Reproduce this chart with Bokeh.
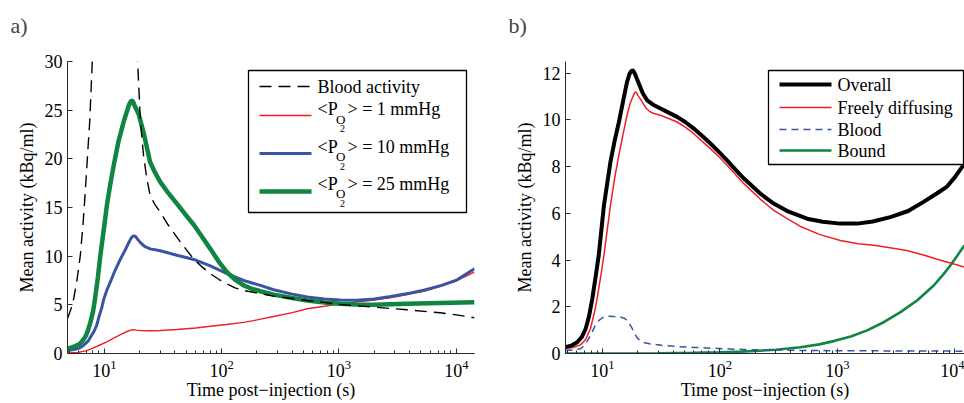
from bokeh.plotting import figure
from bokeh.layouts import row
from bokeh.models import (Range1d, FixedTicker, LogTickFormatter, Label, Arrow,
                          BoxAnnotation, Title)
from bokeh.embed import file_html
from bokeh.resources import INLINE

# ---------------- data ----------------
# panel a)
blood_t = [4.85, 5.2, 5.47, 5.85, 6.24, 6.6, 6.9, 7.2, 7.5, 7.85, 8.5, 9.5, 10.5, 12, 15,
           17, 18.5, 19.2, 20.3, 21.6, 23, 24.6, 27, 30, 35, 41.5, 49, 57.8, 68, 80, 95,
           111, 130, 154, 214, 277, 400, 535, 750, 1025, 1990, 3800, 7270, 10000, 14300]
blood_v = [3.6, 4.6, 5.6, 7.6, 10.1, 13.5, 16.9, 20.5, 23.8, 29.4, 40, 52, 58, 60, 58,
           50, 38, 30, 23.8, 20.3, 18.0, 16.2, 15.3, 14.5, 13.2, 11.95, 10.8, 9.7, 8.9, 8.2, 7.6,
           7.16, 6.75, 6.47, 6.15, 5.9, 5.65, 5.45, 5.25, 5.03, 4.76, 4.49, 4.18, 3.97, 3.67]

po1_t = [4.85, 6, 7.1, 8, 9.25, 10.5, 12, 13.7, 15.6, 17, 17.8, 18.8, 20.5, 24.6, 30, 41.5,
         60, 80, 110, 154, 200, 277, 400, 535, 750, 1025, 1990, 2800, 3800, 5300, 7270,
         10000, 14300]
po1_v = [0.05, 0.12, 0.3, 0.55, 0.9, 1.2, 1.57, 1.93, 2.26, 2.42, 2.45, 2.4, 2.35, 2.33,
         2.37, 2.47, 2.62, 2.8, 2.98, 3.2, 3.45, 3.8, 4.2, 4.6, 4.85, 5.1, 5.5, 5.75, 6.05,
         6.4, 6.9, 7.45, 8.35]

po10_t = [4.85, 5.5, 6.1, 6.6, 7.3, 8.1, 8.6, 9.0, 9.5, 9.9, 10.5, 11.2, 12.3, 13.7, 15, 16,
          17, 17.8, 18.5, 19.3, 20.3, 22, 24.6, 30, 41.5, 58, 80, 111, 154, 214, 277, 400,
          535, 750, 1025, 1425, 2000, 2760, 4000, 5270, 7500, 10170, 14300]
po10_v = [0.3, 0.4, 0.55, 0.8, 1.3, 2.2, 2.9, 3.8, 4.7, 5.6, 6.5, 7.3, 8.5, 9.7, 10.6, 11.3,
          11.9, 12.1, 12.0, 11.7, 11.4, 11.0, 10.75, 10.55, 10.1, 9.66, 9.0, 8.2, 7.5, 7.0,
          6.55, 6.1, 5.8, 5.6, 5.5, 5.48, 5.6, 5.86, 6.2, 6.5, 7.0, 7.57, 8.7]

po25_t = [4.85, 5.5, 6.2, 6.7, 7.0, 7.3, 7.6, 8.0, 8.3, 8.8, 9.25, 9.9, 10.5, 11.2, 12, 13.2,
          14.6, 15.5, 16.3, 17, 17.5, 18.2, 19.6, 21.6, 24.5, 27, 30, 35, 41.5, 49, 58, 68,
          80, 95, 111, 130, 154, 180, 214, 277, 400, 535, 750, 1025, 1400, 1990, 3800, 7300,
          14300]
po25_v = [0.5, 0.7, 1.0, 1.5, 1.9, 2.5, 3.2, 4.3, 5.5, 7.8, 10.1, 12.8, 15.2, 17.3, 19.3,
          21.8, 23.8, 24.8, 25.6, 26.0, 25.9, 25.4, 24.6, 22.7, 19.7, 18.6, 17.6, 16.5, 15.4,
          14.3, 13.2, 12.0, 10.75, 9.4, 8.35, 7.6, 7.0, 6.65, 6.4, 6.05, 5.7, 5.45, 5.25, 5.1,
          5.03, 5.0, 5.1, 5.2, 5.27]

# panel b)
overall_t = [4.85, 5.5, 6.1, 6.7, 7.2, 7.7, 8.2, 8.7, 9.3, 9.8, 10.3, 11, 11.7, 12.7, 13.8,
             15, 16.2, 17.1, 17.9, 18.4, 18.8, 19.5, 20.4, 22, 24, 27, 31.2, 37, 43.2, 51,
             59.9, 70, 83, 98, 115, 135, 160, 190, 221, 287, 380, 552, 750, 1060, 1475, 2000,
             2820, 4000, 5400, 7000, 8500, 10000, 12060]
overall_v = [0.27, 0.35, 0.48, 0.72, 1.06, 1.6, 2.34, 3.2, 4.2, 5.3, 6.34, 7.3, 8.2, 9.1,
             9.9, 10.8, 11.63, 12.0, 12.13, 12.08, 12.0, 11.8, 11.56, 11.15, 10.84, 10.65,
             10.49, 10.3, 10.13, 9.9, 9.63, 9.33, 8.99, 8.63, 8.27, 7.88, 7.49, 7.15, 6.84,
             6.42, 6.08, 5.77, 5.64, 5.56, 5.56, 5.65, 5.84, 6.1, 6.49, 6.85, 7.13, 7.55, 8.13]

free_t = [4.85, 5.7, 6.5, 7.2, 7.9, 8.5, 9.0, 9.6, 10.3, 11, 11.7, 12.7, 13.8, 15, 16.2, 17.2,
          18, 18.6, 19.1, 19.6, 20, 21, 21.8, 23.5, 25.6, 28, 31.2, 37, 43.2, 51, 59.9, 70,
          83, 98, 115, 135, 160, 190, 221, 287, 380, 480, 700, 1060, 1500, 2040, 2800, 3890,
          5300, 7530, 9500, 12060]
free_v = [0.2, 0.27, 0.37, 0.6, 1.06, 1.7, 2.34, 3.2, 4.2, 5.3, 6.34, 7.5, 8.49, 9.4, 10.2,
          10.7, 10.95, 11.12, 11.2, 11.15, 11.05, 10.9, 10.77, 10.5, 10.34, 10.26, 10.2, 10.05,
          9.91, 9.68, 9.41, 9.1, 8.77, 8.42, 8.06, 7.67, 7.27, 6.92, 6.6, 6.13, 5.75, 5.45,
          5.1, 4.84, 4.7, 4.63, 4.53, 4.41, 4.23, 3.99, 3.85, 3.7]

bloodb_t = [4.85, 5.7, 6.5, 7.2, 7.9, 8.6, 9.3, 10, 10.9, 12.5, 14.2, 15.5, 16.2, 16.8, 17.3,
            18, 18.5, 19.5, 20.7, 22.5, 25.6, 32, 43, 60, 83, 160, 300, 500, 1000, 3000, 12060]
bloodb_v = [0.13, 0.15, 0.2, 0.4, 0.77, 1.15, 1.41, 1.53, 1.6, 1.58, 1.56, 1.5, 1.41, 1.3,
            1.2, 1.05, 0.91, 0.72, 0.56, 0.47, 0.41, 0.35, 0.3, 0.26, 0.23, 0.17, 0.15, 0.13,
            0.12, 0.11, 0.1]

bound_t = [4.85, 30, 60, 100, 150, 200, 300, 484, 700, 930, 1300, 1790, 2500, 3440, 4760,
           6600, 8000, 9130, 10500, 12060]
bound_v = [0.0, 0.01, 0.03, 0.05, 0.08, 0.11, 0.16, 0.27, 0.39, 0.53, 0.73, 0.99, 1.35, 1.77,
           2.27, 2.91, 3.4, 3.77, 4.2, 4.63]

x_major = [10, 100, 1000, 10000]
x_minor = [m * d for d in (1, 10, 100, 1000, 10000) for m in range(2, 10)]
ya_ticks = [0, 5, 10, 15, 20, 25, 30]
yb_ticks = [0, 2, 4, 6, 8, 10, 12]
x_title = "Time post\u2212injection (s)"
y_title = "Mean activity (kBq/ml)"

RED = "#ee1f26"
BLUE = "#3a53a4"
GREEN = "#0f8541"
BLACK = "#000000"
SERIF = "Liberation Serif"
AX = "#2a2a2a"


def text(p, x, y, s, size="18px", align="left"):
    p.add_layout(Label(x=x, y=y, x_units="screen", y_units="screen", text=s,
                       text_font=SERIF, text_font_size=size, text_baseline="middle",
                       text_align=align, text_color="black"))


def style(p, yticks, panel_label):
    p.xgrid.visible = False
    p.ygrid.visible = False
    p.outline_line_color = None
    p.background_fill_color = "white"
    p.border_fill_color = "white"
    for ax in (p.xaxis[0], p.yaxis[0]):
        ax.axis_line_color = AX
        ax.major_tick_line_color = AX
        ax.minor_tick_line_color = AX
        ax.major_tick_in = 5
        ax.major_tick_out = 0
        ax.minor_tick_in = 3
        ax.minor_tick_out = 0
        ax.major_label_text_font = SERIF
        ax.major_label_text_font_size = "18px"
        ax.major_label_text_color = "black"
        ax.axis_label_text_font = SERIF
        ax.axis_label_text_font_size = "18px"
        ax.axis_label_text_font_style = "normal"
        ax.axis_label_text_color = "black"
    xa = p.xaxis[0]
    xa.ticker = FixedTicker(ticks=x_major, minor_ticks=x_minor)
    xa.formatter = LogTickFormatter()
    xa.axis_label = x_title
    xa.major_label_standoff = 6
    xa.axis_label_standoff = 0
    ya = p.yaxis[0]
    ya.ticker = FixedTicker(ticks=yticks)
    ya.minor_tick_line_color = None
    ya.axis_label = y_title
    ya.major_label_standoff = 5
    ya.axis_label_standoff = 5
    # spacer (closest to the frame) then the panel letter above it
    p.add_layout(Title(text=" ", text_font=SERIF, text_font_size="12px", standoff=0), "above")
    p.add_layout(Title(text=panel_label, text_font=SERIF, text_font_size="22px",
                       text_font_style="normal", align="left", offset=-57, standoff=16),
                 "above")


def line_sample(p, x0, x1, y, color, width, dash="solid"):
    p.add_layout(Arrow(end=None, start=None, x_start=x0, x_end=x1, y_start=y, y_end=y,
                       start_units="screen", end_units="screen", line_color=color,
                       line_width=width, line_dash=dash))


# ---------------- panel a ----------------
pa = figure(width=480, height=403, x_axis_type="log", title=None,
            x_range=Range1d(4.85, 14300), y_range=Range1d(0, 30),
            output_backend="svg", toolbar_location=None,
            min_border_left=67, min_border_right=6, min_border_top=61, min_border_bottom=50)

pa.line(po1_t, po1_v, line_color=RED, line_width=1.4)
pa.line(po10_t, po10_v, line_color=BLUE, line_width=3)
pa.line(po25_t, po25_v, line_color=GREEN, line_width=4.5)
pa.line(blood_t, blood_v, line_color=BLACK, line_width=1.4, line_dash="12 7")
style(pa, ya_ticks, "a)")

# legend a (screen units relative to the frame, y from bottom)
pa.add_layout(BoxAnnotation(left=181, right=399, top=283, bottom=141,
                            left_units="screen", right_units="screen",
                            top_units="screen", bottom_units="screen",
                            fill_color="white", fill_alpha=1.0,
                            line_color="black", line_width=1.3, line_alpha=1.0))
line_sample(pa, 192, 244, 267, BLACK, 1.4, "12 7")
line_sample(pa, 192, 244, 238, RED, 1.4)
line_sample(pa, 192, 244, 200, BLUE, 3)
line_sample(pa, 192, 244, 162, GREEN, 4.5)
text(pa, 250, 267, "Blood activity")
for yc, lab in ((244.5, "> = 1 mmHg"), (207, "> = 10 mmHg"), (170, "> = 25 mmHg")):
    text(pa, 250, yc, "<P")
    text(pa, 268.5, yc - 10, "O", "13px")
    text(pa, 272.5, yc - 19.5, "2", "10px")
    text(pa, 280, yc, lab)

# ---------------- panel b ----------------
pb = figure(width=484, height=403, x_axis_type="log", title=None,
            x_range=Range1d(4.85, 12060), y_range=Range1d(0, 12.5),
            output_backend="svg", toolbar_location=None,
            min_border_left=85, min_border_right=0, min_border_top=61, min_border_bottom=50)

pb.line(bound_t, bound_v, line_color=GREEN, line_width=2.6)
pb.line(bloodb_t, bloodb_v, line_color=BLUE, line_width=1.5, line_dash="7 5")
pb.line(free_t, free_v, line_color=RED, line_width=1.5)
pb.line(overall_t, overall_v, line_color=BLACK, line_width=4)
style(pb, yb_ticks, "b)")

pb.add_layout(BoxAnnotation(left=203, right=398, top=283, bottom=189,
                            left_units="screen", right_units="screen",
                            top_units="screen", bottom_units="screen",
                            fill_color="white", fill_alpha=1.0,
                            line_color="black", line_width=1.3, line_alpha=1.0))
for yc, col, w, dash, lab in ((269, BLACK, 4, "solid", "Overall"),
                              (246, RED, 1.5, "solid", "Freely diffusing"),
                              (224, BLUE, 1.5, "7 5", "Blood"),
                              (203, GREEN, 2.6, "solid", "Bound")):
    line_sample(pb, 214, 266, yc, col, w, dash)
    text(pb, 272, yc, lab)

layout = row(pa, pb)
open("out.html", "w").write(file_html(layout, INLINE))
